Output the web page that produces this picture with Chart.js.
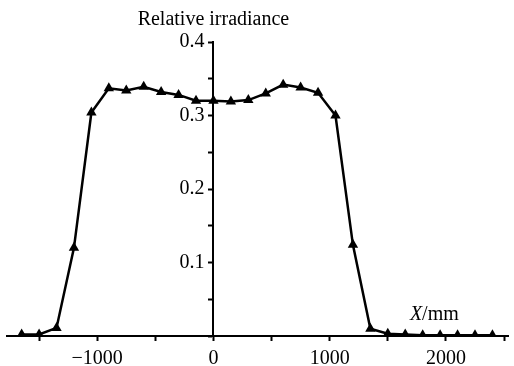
<!DOCTYPE html>
<html>
<head>
<meta charset="utf-8">
<script src="https://cdn.jsdelivr.net/npm/chart.js@4/dist/chart.umd.min.js"></script>
<style>
  html, body { margin: 0; padding: 0; background: #fff; }
  #wrap { width: 514px; height: 366px; position: relative; }
</style>
</head>
<body>
<div id="wrap"><canvas id="c" width="514" height="366"></canvas></div>
<script>
// X position (mm)
const xPositions = [-1650, -1500, -1350, -1200, -1050, -900, -750, -600, -450, -300, -150, 0,
  150, 300, 450, 600, 750, 900, 1050, 1200, 1350, 1500, 1650, 1800, 1950, 2100, 2250, 2400];
// Relative irradiance
const irradiance = [0.002, 0.002, 0.011, 0.120, 0.304, 0.337, 0.334, 0.339, 0.332, 0.328, 0.320, 0.320,
  0.319, 0.321, 0.330, 0.342, 0.338, 0.331, 0.300, 0.124, 0.010, 0.003, 0.002, 0.001, 0.001, 0.001, 0.001, 0.001];
// Tick positions and labelled ticks
const xTickValues = [-1500, -1000, -500, 0, 500, 1000, 1500, 2000, 2500];
const xTickLabels = [-1000, 0, 1000, 2000];
const yTickValues = [0, 0.05, 0.1, 0.15, 0.2, 0.25, 0.3, 0.35, 0.4];
const yTickLabels = [0.1, 0.2, 0.3, 0.4];
const yAxisTitle = 'Relative irradiance';
const xAxisTitleItalic = 'X';
const xAxisTitleRest = '/mm';

const points = xPositions.map((x, i) => ({ x: x, y: irradiance[i] }));
const FONT = '"Liberation Serif", "Times New Roman", serif';

const axisLabels = {
  id: 'axisLabels',
  afterDraw(chart) {
    const ctx = chart.ctx;
    const xs = chart.scales.x, ys = chart.scales.y;
    ctx.save();
    ctx.fillStyle = '#000';
    ctx.textBaseline = 'alphabetic';
    ctx.font = '20px ' + FONT;
    ctx.textAlign = 'center';
    ctx.fillText(yAxisTitle, xs.getPixelForValue(0), ys.getPixelForValue(0.4) - 17);
    const bx = xs.getPixelForValue(1690);
    const by = ys.getPixelForValue(0) - 16;
    ctx.textAlign = 'left';
    ctx.font = 'italic 20px ' + FONT;
    ctx.fillText(xAxisTitleItalic, bx, by);
    const w = ctx.measureText(xAxisTitleItalic).width;
    ctx.font = '20px ' + FONT;
    ctx.fillText(xAxisTitleRest, bx + w, by);
    ctx.restore();
  }
};

new Chart(document.getElementById('c'), {
  type: 'scatter',
  data: {
    datasets: [{
      data: points,
      showLine: true,
      borderColor: '#000',
      borderWidth: 2.5,
      backgroundColor: '#000',
      pointStyle: 'triangle',
      pointRadius: 6,
      pointBorderWidth: 0,
      tension: 0
    }]
  },
  options: {
    responsive: false,
    animation: false,
    layout: { padding: { left: 7, right: 4, top: 42, bottom: 30 } },
    plugins: { legend: { display: false }, tooltip: { enabled: false }, title: { display: false } },
    scales: {
      x: {
        type: 'linear',
        position: { y: 0 },
        min: -1776,
        max: 2534,
        afterBuildTicks: (scale) => { scale.ticks = xTickValues.map(v => ({ value: v })); },
        border: { display: true, color: '#000', width: 2 },
        grid: { display: true, drawOnChartArea: false, drawTicks: true, tickLength: 4, color: '#000', tickWidth: 2 },
        ticks: {
          autoSkip: false,
          maxRotation: 0,
          padding: 7,
          color: '#000',
          font: { family: FONT, size: 20 },
          callback: (v) => xTickLabels.includes(v) ? (v < 0 ? '\u2212' + Math.abs(v) : String(v)) : ''
        }
      },
      y: {
        type: 'linear',
        position: { x: 0 },
        min: 0,
        max: 0.4,
        afterBuildTicks: (scale) => { scale.ticks = yTickValues.map(v => ({ value: v })); },
        border: { display: true, color: '#000', width: 2 },
        grid: { display: true, drawOnChartArea: false, drawTicks: true, tickLength: 4, color: '#000', tickWidth: 2 },
        ticks: {
          autoSkip: false,
          padding: 3,
          color: '#000',
          font: { family: FONT, size: 20 },
          callback: (v) => yTickLabels.includes(v) ? v.toFixed(1) + ' \u2009' : ''
        }
      }
    }
  },
  plugins: [axisLabels]
});
</script>
</body>
</html>
